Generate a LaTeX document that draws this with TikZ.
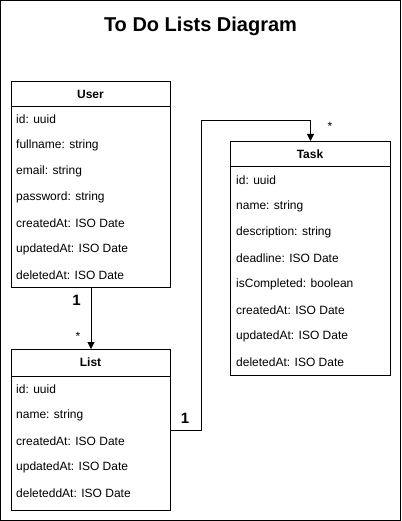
\documentclass[tikz,border=0pt]{standalone}
\usepackage{fontspec}
\setmainfont{Liberation Sans}
\usetikzlibrary{arrows.meta}
\begin{document}
\begin{tikzpicture}[x=1pt,y=-1pt,
  box/.style={draw,line width=1pt,anchor=north west,inner sep=0pt,minimum width=159pt},
  hdr/.style={font=\fontsize{12}{14}\selectfont\bfseries,anchor=center},
  row/.style={font=\fontsize{12}{14}\selectfont,anchor=west,inner sep=0pt},
  mult/.style={font=\fontsize{12}{14}\selectfont,inner sep=0pt},
  one/.style={font=\fontsize{15}{17}\selectfont\bfseries,inner sep=0pt},
  conn/.style={line width=1pt,-{Triangle[width=7pt,length=7pt]}}]
\useasboundingbox (0,0) rectangle (401,521);
\draw[line width=1pt] (0.5,0.5) rectangle (400.5,520.5);
\node[font=\fontsize{20}{24}\selectfont\bfseries] (title) at (200.5,26) {To Do Lists Diagram};
% User
\node[box,minimum height=206pt] (user) at (11,81) {};
\draw[line width=1pt] (11,107) -- (170,107);
\node[hdr] (userh) at (90.5,94) {User};
\node[row] (u1) at (16,119) {id: uuid};
\node[row] (u2) at (16,145) {fullname: string};
\node[row] (u3) at (16,171) {email: string};
\node[row] (u4) at (16,197) {password: string};
\node[row] (u5) at (16,223) {createdAt: ISO Date};
\node[row] (u6) at (16,249) {updatedAt: ISO Date};
\node[row] (u7) at (16,275) {deletedAt: ISO Date};
% List
\node[box,minimum height=161pt] (list) at (11,349) {};
\draw[line width=1pt] (11,376) -- (170,376);
\node[hdr] (listh) at (90.5,362.5) {List};
\node[row] (l1) at (16,389) {id: uuid};
\node[row] (l2) at (16,415) {name: string};
\node[row] (l3) at (16,441) {createdAt: ISO Date};
\node[row] (l4) at (16,467) {updatedAt: ISO Date};
\node[row] (l5) at (16,493) {deleteddAt: ISO Date};
% Task
\node[box,minimum width=160pt,minimum height=234pt] (task) at (230,141) {};
\draw[line width=1pt] (230,167) -- (390,167);
\node[hdr] (taskh) at (310,154) {Task};
\node[row] (t1) at (236,180) {id: uuid};
\node[row] (t2) at (236,206) {name: string};
\node[row] (t3) at (236,232) {description: string};
\node[row] (t4) at (236,258) {deadline: ISO Date};
\node[row] (t5) at (236,284) {isCompleted: boolean};
\node[row] (t6) at (236,310) {createdAt: ISO Date};
\node[row] (t7) at (236,336) {updatedAt: ISO Date};
\node[row] (t8) at (236,362) {deletedAt: ISO Date};
% connectors
\draw[conn] (user.south) -- (list.north);
\draw[conn] (list.east) -- ++(30,0) |- ([yshift=20pt]task.north) -- (task.north);
\node[one] (m1) at (76.5,300) {1};
\node[mult] (m2) at (78,336) {*};
\node[one] (m3) at (185,418) {1};
\node[mult] (m4) at (330,126) {*};
\end{tikzpicture}
\end{document}
